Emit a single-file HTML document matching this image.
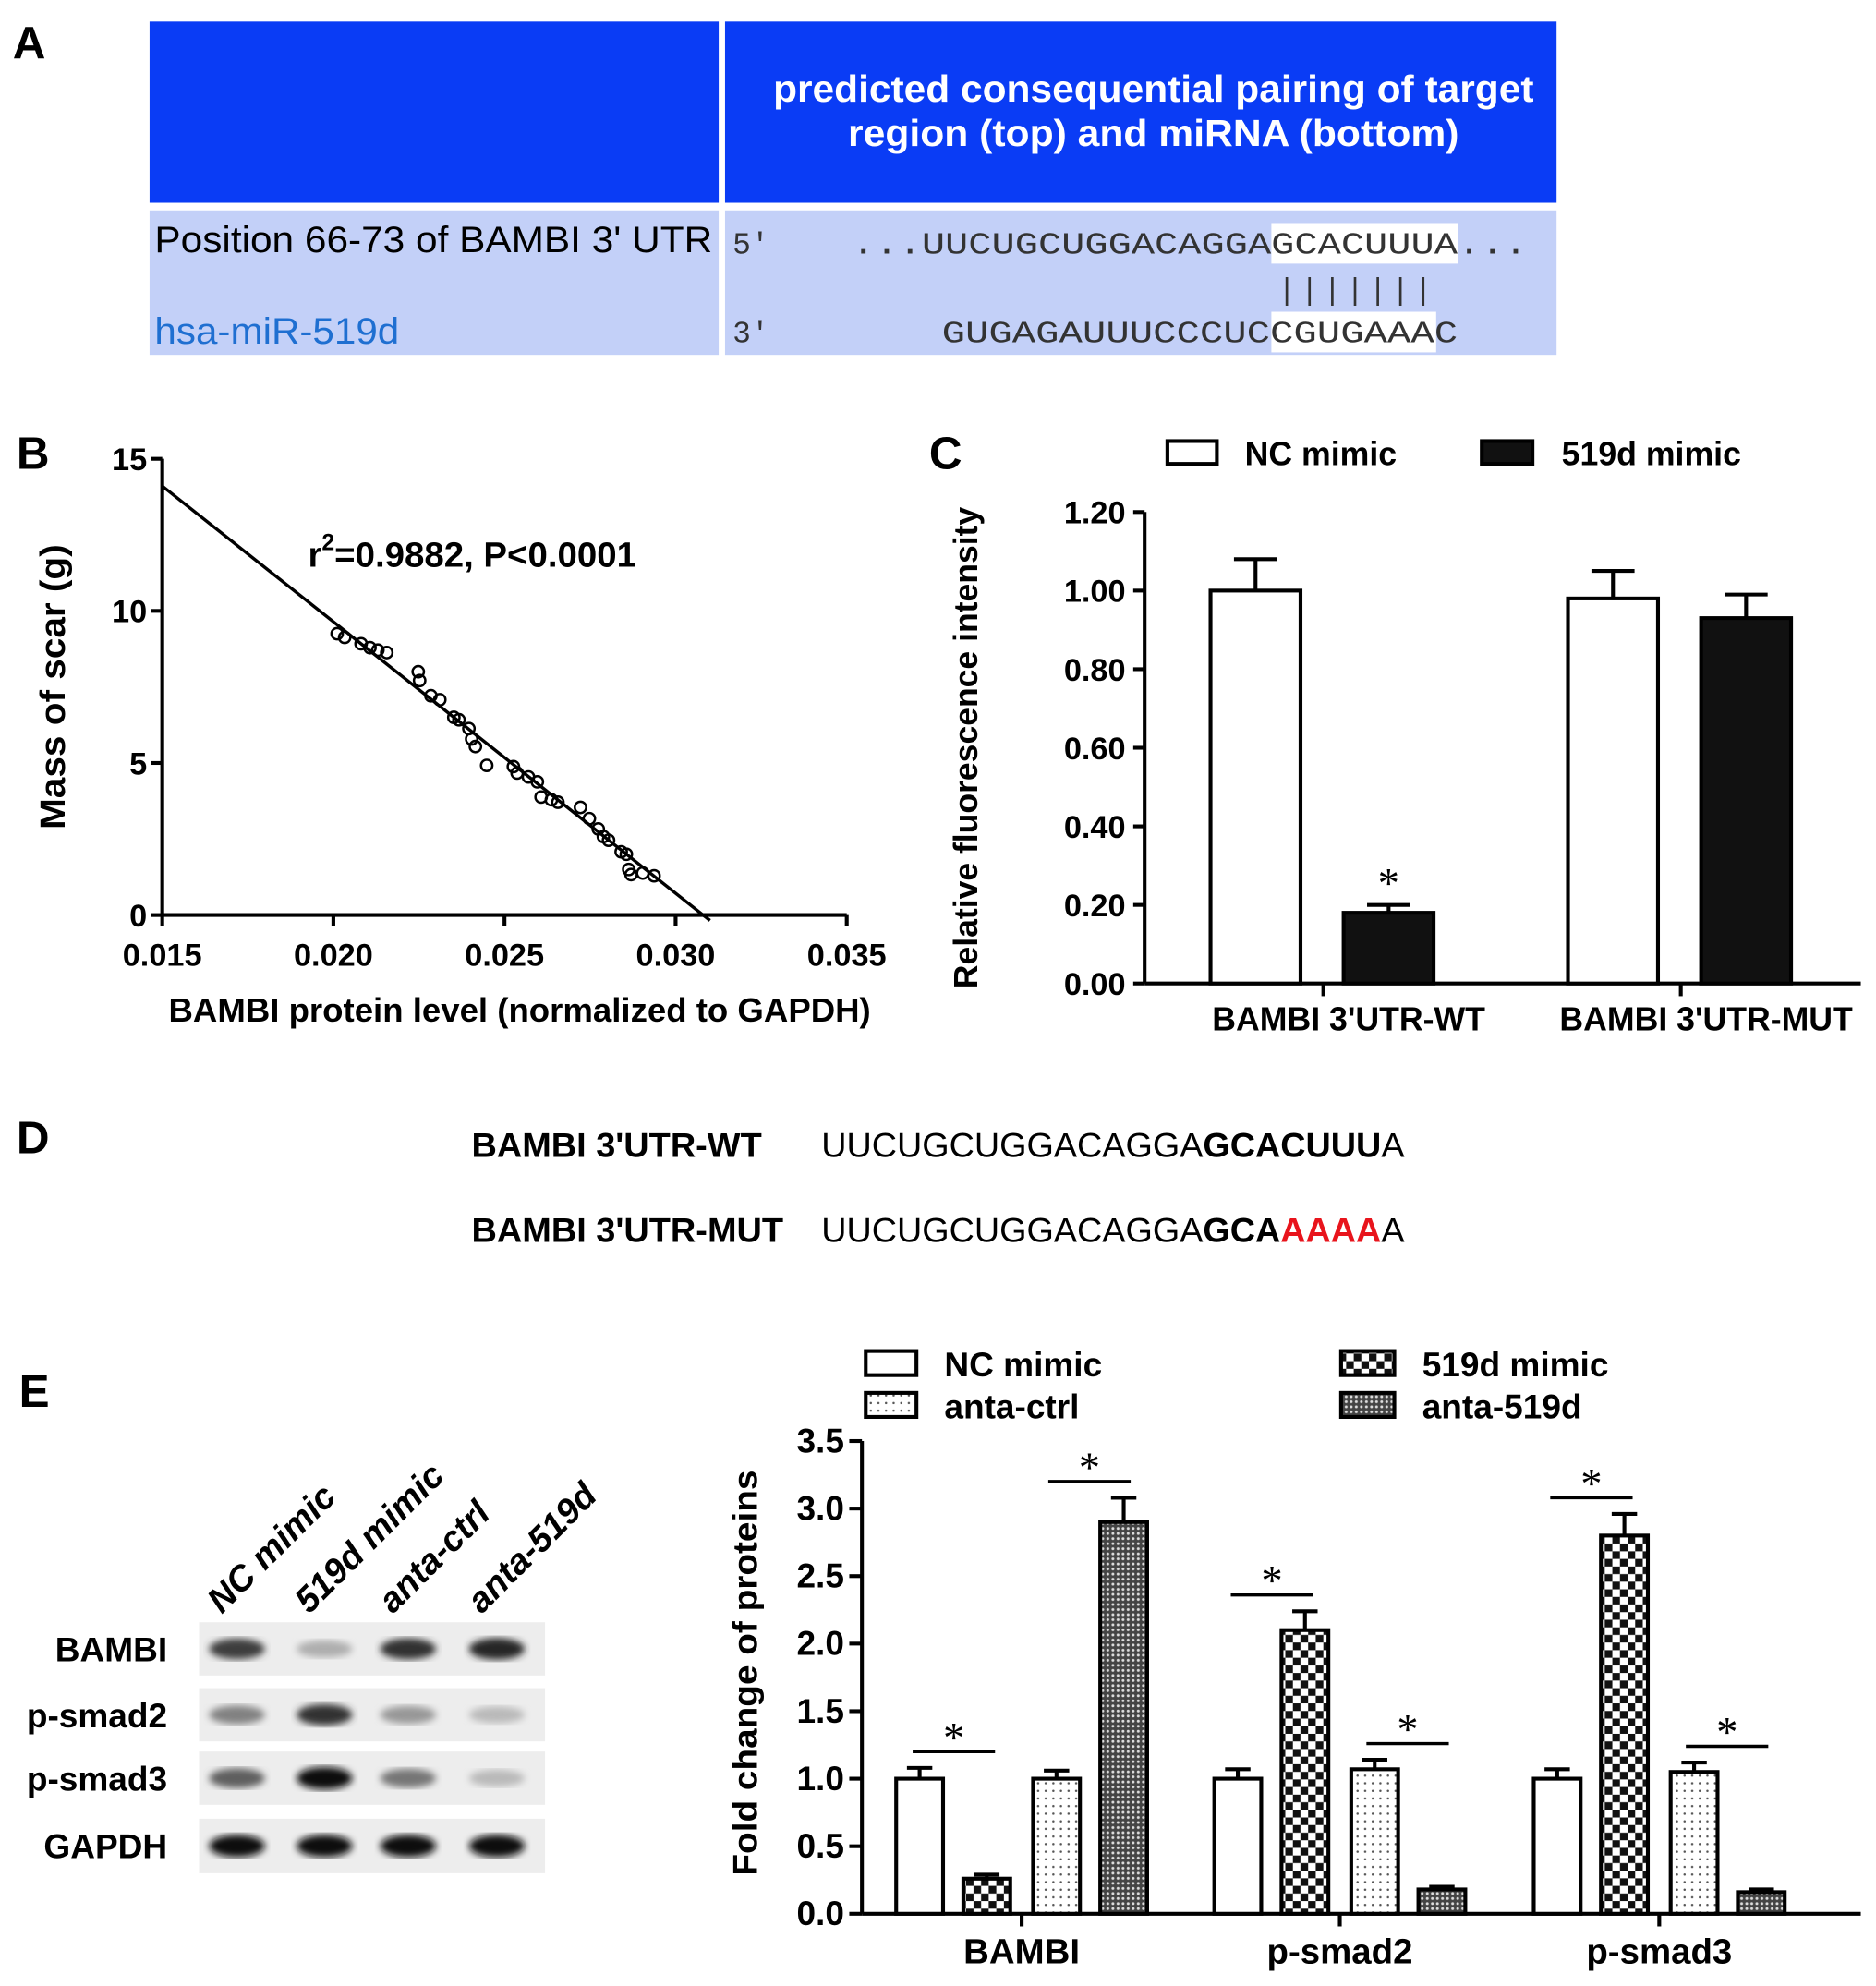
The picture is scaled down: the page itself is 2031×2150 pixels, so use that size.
<!DOCTYPE html>
<html><head><meta charset="utf-8"><style>
html,body{margin:0;padding:0;background:#fff;}
svg{display:block;font-family:"Liberation Sans",Arial,sans-serif;}
.b{font-weight:bold;}
.mono{font-family:"Liberation Mono",monospace;}
</style></head><body>
<svg id="fig" width="2031" height="2150" viewBox="0 0 1480 1567" preserveAspectRatio="none" xmlns="http://www.w3.org/2000/svg">
<defs>
<pattern id="pCheck" width="12" height="12" patternUnits="userSpaceOnUse"><rect width="12" height="12" fill="#fff"/><rect width="6" height="6" fill="#111"/><rect x="6" y="6" width="6" height="6" fill="#111"/></pattern>
<pattern id="pDot" width="6" height="6" patternUnits="userSpaceOnUse"><rect width="6" height="6" fill="#fff"/><circle cx="3" cy="3" r="0.9" fill="#555"/></pattern>
<pattern id="pHatch" width="4" height="4" patternUnits="userSpaceOnUse"><rect width="4" height="4" fill="#444"/><circle cx="2" cy="2" r="1.1" fill="#ddd"/></pattern>
<filter id="blur"><feGaussianBlur stdDeviation="3"/></filter>
</defs>

<!-- Panel A -->
<text x="10" y="46" font-size="36" class="b">A</text>
<g>
<rect x="118" y="17" width="449" height="143" fill="#0a3cf5"/>
<rect x="572" y="17" width="656" height="143" fill="#0a3cf5"/>
<text x="910" y="80" font-size="30" class="b" fill="#fff" text-anchor="middle" textLength="600" lengthAdjust="spacingAndGlyphs">predicted consequential pairing of target</text>
<text x="910" y="115" font-size="30" class="b" fill="#fff" text-anchor="middle" textLength="482" lengthAdjust="spacingAndGlyphs">region (top) and miRNA (bottom)</text>
<rect x="118" y="166" width="449" height="114" fill="#c3d0f8"/>
<rect x="572" y="166" width="656" height="114" fill="#c3d0f8"/>
<rect x="1003" y="176" width="147" height="32" fill="#fff"/>
<rect x="1003" y="246" width="130" height="32" fill="#fff"/>
<text x="122" y="199" font-size="29" textLength="440" lengthAdjust="spacingAndGlyphs">Position 66-73 of BAMBI 3' UTR</text>
<text x="122" y="271" font-size="29" fill="#1f6fd1" textLength="193" lengthAdjust="spacingAndGlyphs">hsa-miR-519d</text>
<text x="578" y="200" font-size="24" class="mono" fill="#333">5'</text>
<text x="578" y="270" font-size="24" class="mono" fill="#333">3'</text>
<text x="672" y="200" font-size="24" class="mono" fill="#333" textLength="533" lengthAdjust="spacingAndGlyphs">...UUCUGCUGGACAGGAGCACUUUA...</text>
<text x="1008" y="236" font-size="24" class="mono" fill="#333" textLength="122" lengthAdjust="spacing">|||||||</text>
<text x="743" y="270" font-size="24" class="mono" fill="#333" textLength="407" lengthAdjust="spacingAndGlyphs">GUGAGAUUUCCCUCCGUGAAAC</text>
</g>

<!-- Panel B -->
<text x="13" y="370" font-size="36" class="b">B</text>
<g id="chartB"></g>
<text x="243" y="447" font-size="28" class="b">r<tspan dy="-13" font-size="18">2</tspan><tspan dy="13">=0.9882, P&lt;0.0001</tspan></text>
<text x="410" y="806" font-size="26" class="b" text-anchor="middle" textLength="554" lengthAdjust="spacingAndGlyphs">BAMBI protein level (normalized to GAPDH)</text>
<text transform="translate(51,542) rotate(-90)" font-size="28" class="b" text-anchor="middle" textLength="225" lengthAdjust="spacingAndGlyphs">Mass of scar (g)</text>

<!-- Panel C -->
<text x="733" y="370" font-size="36" class="b">C</text>
<rect x="921" y="348" width="39" height="18" fill="#fff" stroke="#000" stroke-width="3"/>
<text x="982" y="367" font-size="26" class="b">NC mimic</text>
<rect x="1169" y="348" width="40" height="18" fill="#111" stroke="#000" stroke-width="3"/>
<text x="1232" y="367" font-size="26" class="b">519d mimic</text>
<g id="chartC"></g>
<text transform="translate(771,590) rotate(-90)" font-size="26" class="b" text-anchor="middle" textLength="380" lengthAdjust="spacingAndGlyphs">Relative fluorescence intensity</text>

<!-- Panel D -->
<text x="13" y="910" font-size="36" class="b">D</text>
<text x="372" y="913" font-size="27" class="b" textLength="229" lengthAdjust="spacingAndGlyphs">BAMBI 3'UTR-WT</text>
<text x="648" y="913" font-size="27" textLength="460" lengthAdjust="spacingAndGlyphs">UUCUGCUGGACAGGA<tspan font-weight="bold">GCACUUU</tspan>A</text>
<text x="372" y="980" font-size="27" class="b" textLength="246" lengthAdjust="spacingAndGlyphs">BAMBI 3'UTR-MUT</text>
<text x="648" y="980" font-size="27" textLength="460" lengthAdjust="spacingAndGlyphs">UUCUGCUGGACAGGA<tspan font-weight="bold">GCA</tspan><tspan font-weight="bold" fill="#e8141c">AAAA</tspan>A</text>

<!-- Panel E -->
<text x="15" y="1110" font-size="36" class="b">E</text>
<g id="blot"></g>
<g>
<rect x="683" y="1066" width="40" height="19" fill="#fff" stroke="#000" stroke-width="3"/>
<text x="745" y="1086" font-size="27" class="b">NC mimic</text>
<rect x="683" y="1099" width="40" height="19" fill="url(#pDot)" stroke="#000" stroke-width="3"/>
<text x="745" y="1119" font-size="27" class="b">anta-ctrl</text>
<rect x="1058" y="1066" width="42" height="19" fill="url(#pCheck)" stroke="#000" stroke-width="3"/>
<text x="1122" y="1086" font-size="27" class="b">519d mimic</text>
<rect x="1058" y="1099" width="42" height="19" fill="url(#pHatch)" stroke="#000" stroke-width="3"/>
<text x="1122" y="1119" font-size="27" class="b">anta-519d</text>
</g>
<g id="chartE"></g>
<text transform="translate(597,1320) rotate(-90)" font-size="27" class="b" text-anchor="middle" textLength="320" lengthAdjust="spacingAndGlyphs">Fold change of  proteins</text>
</svg>

<script>
// ---- Chart B data ----
const bX = [0.02011,0.02033,0.02081,0.02107,0.0213,0.02156,0.02248,0.02252,0.02285,0.02311,0.02352,0.02367,0.02396,0.02404,0.02415,0.02448,0.02526,0.02537,0.0257,0.02596,0.02607,0.02637,0.02656,0.02722,0.02748,0.02774,0.02789,0.02804,0.02841,0.02856,0.02863,0.0287,0.02904,0.02937];
const bY = [9.25,9.13,8.92,8.79,8.71,8.63,8.0,7.71,7.21,7.08,6.5,6.42,6.13,5.79,5.54,4.92,4.88,4.67,4.54,4.38,3.88,3.79,3.71,3.54,3.17,2.83,2.58,2.46,2.08,2.0,1.5,1.33,1.38,1.29];
const bXTicks = [0.015,0.020,0.025,0.030,0.035];
const bXTickLabels = ["0.015","0.020","0.025","0.030","0.035"];
const bYTicks = [0,5,10,15];
const bFitIntercept = 27.49, bFitSlope = -892.4;

// ---- Chart C data ----
const cCategories = ["BAMBI 3'UTR-WT","BAMBI 3'UTR-MUT"];
const cNC = [1.0,0.98];
const cNCErr = [0.08,0.07];
const c519 = [0.18,0.93];
const c519Err = [0.02,0.06];
const cYTicks = [0,0.2,0.4,0.6,0.8,1.0,1.2];
const cYTickLabels = ["0.00","0.20","0.40","0.60","0.80","1.00","1.20"];
const cStars = [[0,1]];

// ---- Chart E data ----
const eCategories = ["BAMBI","p-smad2","p-smad3"];
const eNC = [1.0,1.0,1.0];
const eNCErr = [0.08,0.07,0.07];
const e519 = [0.26,2.1,2.8];
const e519Err = [0.03,0.14,0.16];
const eCtrl = [1.0,1.07,1.05];
const eCtrlErr = [0.06,0.07,0.07];
const eAnta = [2.9,0.18,0.16];
const eAntaErr = [0.18,0.02,0.02];
const eYTicks = [0,0.5,1,1.5,2,2.5,3,3.5];
const eYTickLabels = ["0.0","0.5","1.0","1.5","2.0","2.5","3.0","3.5"];

// ---- Blot data (band intensity 0..1) ----
const blotRows = ["BAMBI","p-smad2","p-smad3","GAPDH"];
const blotLanes = ["NC mimic","519d mimic","anta-ctrl","anta-519d"];
const blotIntensity = [[0.75,0.25,0.8,0.85],[0.45,0.8,0.35,0.2],[0.6,0.95,0.5,0.2],[0.95,0.95,0.95,0.95]];

const NS="http://www.w3.org/2000/svg";
function mk(parent,tag,attrs,text){const e=document.createElementNS(NS,tag);for(const k in attrs)e.setAttribute(k,attrs[k]);if(text!==undefined)e.textContent=text;parent.appendChild(e);return e;}

// ---- Draw B ----
(function(){
const g=document.getElementById('chartB');
const X0=128,X1=668,Y0=722,Y1=362;
const sx=v=>X0+(v-0.015)/0.02*(X1-X0);
const sy=v=>Y0-v/15*(Y0-Y1);
let e=mk(g,'line',{x1:X0,y1:Y0,x2:X1,y2:Y0,stroke:'#000','stroke-width':3});


e=mk(g,'line',{x1:X0,y1:Y0,x2:X0,y2:Y1,stroke:'#000','stroke-width':3});


bXTicks.forEach((t,i)=>{
 mk(g,'line',{x1:sx(t),y1:Y0,x2:sx(t),y2:Y0+9,stroke:'#000','stroke-width':3});
 e=mk(g,'text',{x:sx(t),y:Y0+40,'font-size':25,'font-weight':'bold','text-anchor':'middle'},bXTickLabels[i]);
 
 
});
bYTicks.forEach(t=>{
 mk(g,'line',{x1:X0-9,y1:sy(t),x2:X0,y2:sy(t),stroke:'#000','stroke-width':3});
 e=mk(g,'text',{x:X0-12,y:sy(t)+9,'font-size':25,'font-weight':'bold','text-anchor':'end'},String(t));
 
 
});
const xa=0.015, xb=-bFitIntercept/bFitSlope+0.0002;
e=mk(g,'line',{x1:sx(xa),y1:sy(bFitIntercept+bFitSlope*xa),x2:sx(xb),y2:sy(bFitIntercept+bFitSlope*xb),stroke:'#000','stroke-width':2.5});


bX.forEach((x,i)=>{
 e=mk(g,'circle',{cx:sx(x),cy:sy(bY[i]),r:4.5,fill:'none',stroke:'#000','stroke-width':1.8});
 
 
});
})();

// ---- Draw C ----
(function(){
const g=document.getElementById('chartC');
const X0=903,X1=1468,Y0=776,Y1=404;
const sy=v=>Y0-v/1.2*(Y0-Y1);
const groupX=[955,1237], bw=71, off2=105;
let e=mk(g,'line',{x1:X0,y1:Y0,x2:X1,y2:Y0,stroke:'#000','stroke-width':3});


e=mk(g,'line',{x1:X0,y1:Y0,x2:X0,y2:Y1,stroke:'#000','stroke-width':3});


cYTicks.forEach((t,i)=>{
 mk(g,'line',{x1:X0-9,y1:sy(t),x2:X0,y2:sy(t),stroke:'#000','stroke-width':3});
 e=mk(g,'text',{x:X0-15,y:sy(t)+9,'font-size':25,'font-weight':'bold','text-anchor':'end'},cYTickLabels[i]);
 
 
});
function bar(x,v,err,fill,name){
 const y=sy(v), c=x+bw/2;
 mk(g,'line',{x1:c,y1:y,x2:c,y2:sy(v+err),stroke:'#000','stroke-width':3});
 mk(g,'line',{x1:c-17,y1:sy(v+err),x2:c+17,y2:sy(v+err),stroke:'#000','stroke-width':3});
 const r=mk(g,'rect',{x:x,y:y,width:bw,height:Y0-y,fill:fill,stroke:'#000','stroke-width':3});
 
 
}
cCategories.forEach((c,i)=>{
 bar(groupX[i],cNC[i],cNCErr[i],'#fff','bar-nc-mimic');
 bar(groupX[i]+off2,c519[i],c519Err[i],'#111','bar-519d-mimic');
 const tx=groupX[i]+89;
 mk(g,'line',{x1:tx,y1:Y0,x2:tx,y2:Y0+10,stroke:'#000','stroke-width':3});
 e=mk(g,'text',{x:tx+20,y:Y0+37,'font-size':26,'font-weight':'bold','text-anchor':'middle'},c);
 
 
});
cStars.forEach(s=>{
 const x=groupX[s[0]]+off2+bw/2;
 e=mk(g,'text',{x:x,y:sy(c519[s[0]]+c519Err[s[0]])-6,'font-size':34,'text-anchor':'middle','font-family':'Liberation Serif'},'*');
 
 
});
})();

// ---- Draw blot ----
(function(){
const g=document.getElementById('blot');
const rowY=[1280,1332,1382,1435], rowH=[42,42,42,43];
const laneX=[187,256,322,392];
blotLanes.forEach((l,i)=>{
 const x=laneX[i]-12, y=1274;
 const e=mk(g,'text',{x:x,y:y,'font-size':28,'font-weight':'bold','font-style':'italic',transform:`rotate(-45 ${x} ${y})`},l);
 
 
});
blotRows.forEach((r,j)=>{
 let e=mk(g,'rect',{x:157,y:rowY[j],width:273,height:rowH[j],fill:'#ededed'});
 
 
 e=mk(g,'text',{x:132,y:rowY[j]+31,'font-size':27,'font-weight':'bold','text-anchor':'end'},r);
 
 
 blotIntensity[j].forEach((v,i)=>{
  const c=Math.round(230-v*225);
  const b=mk(g,'ellipse',{cx:laneX[i],cy:rowY[j]+rowH[j]/2,rx:22,ry:6+v*3,fill:`rgb(${c},${c},${c})`,filter:'url(#blur)'});
  
  
 });
});
})();

// ---- Draw E ----
(function(){
const g=document.getElementById('chartE');
const X0=680,X1=1468,Y0=1510,Y1=1137;
const sy=v=>Y0-v/3.5*(Y0-Y1);
const groupX=[707,958,1210], offs=[0,53,108,161], bw=37;
let e=mk(g,'line',{x1:X0,y1:Y0,x2:X1,y2:Y0,stroke:'#000','stroke-width':3});


e=mk(g,'line',{x1:X0,y1:Y0,x2:X0,y2:Y1,stroke:'#000','stroke-width':3});


eYTicks.forEach((t,i)=>{
 mk(g,'line',{x1:X0-10,y1:sy(t),x2:X0,y2:sy(t),stroke:'#000','stroke-width':3});
 e=mk(g,'text',{x:X0-14,y:sy(t)+9,'font-size':27,'font-weight':'bold','text-anchor':'end'},eYTickLabels[i]);
 
 
});
const series=[[eNC,eNCErr,'#fff','bar-nc-mimic'],[e519,e519Err,'url(#pCheck)','bar-519d-mimic'],[eCtrl,eCtrlErr,'url(#pDot)','bar-anta-ctrl'],[eAnta,eAntaErr,'url(#pHatch)','bar-anta-519d']];
function star(x1,x2,v){
 const y=sy(v);
 mk(g,'line',{x1:x1,y1:y,x2:x2,y2:y,stroke:'#000','stroke-width':2.5});
 const s=mk(g,'text',{x:(x1+x2)/2,y:y,'font-size':34,'text-anchor':'middle','font-family':'Liberation Serif'},'*');
 
 
}
eCategories.forEach((c,i)=>{
 series.forEach((s,k)=>{
  const x=groupX[i]+offs[k], v=s[0][i], er=s[1][i], y=sy(v), cx=x+bw/2;
  mk(g,'line',{x1:cx,y1:y,x2:cx,y2:sy(v+er),stroke:'#000','stroke-width':3});
  mk(g,'line',{x1:cx-10,y1:sy(v+er),x2:cx+10,y2:sy(v+er),stroke:'#000','stroke-width':3});
  const r=mk(g,'rect',{x:x,y:y,width:bw,height:Y0-y,fill:s[2],stroke:'#000','stroke-width':3});
  
  
 });
 const tx=groupX[i]+99;
 mk(g,'line',{x1:tx,y1:Y0,x2:tx,y2:Y0+10,stroke:'#000','stroke-width':3});
 e=mk(g,'text',{x:tx,y:Y0+39,'font-size':28,'font-weight':'bold','text-anchor':'middle'},c);
 
 
 const m1=Math.max(eNC[i]+eNCErr[i],e519[i]+e519Err[i])+0.12;
 star(groupX[i]+13,groupX[i]+78,m1);
 const m2=Math.max(eCtrl[i]+eCtrlErr[i],eAnta[i]+eAntaErr[i])+0.12;
 star(groupX[i]+120,groupX[i]+185,m2);
});
})();
</script>
</body></html>
